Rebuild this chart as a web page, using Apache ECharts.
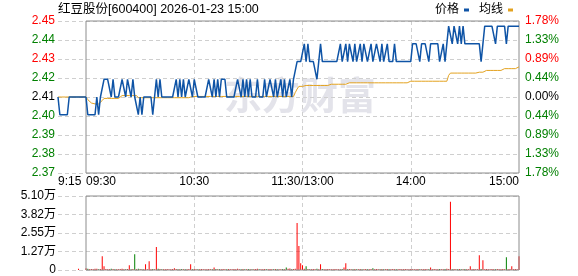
<!DOCTYPE html>
<html><head><meta charset="utf-8">
<script src="https://cdn.jsdelivr.net/npm/echarts@6/dist/echarts.min.js"></script>
<style>html,body{margin:0;padding:0;background:#fff}#c{width:578px;height:276px}</style>
</head><body><div id="c"></div>
<script>
const titleText = '红豆股份[600400] 2026-01-23 15:00';
const prevClose = 2.41;

const preTimes = ['9:15','9:16','9:17','9:18','9:19','9:20','9:21','9:22','9:23','9:24','9:25','9:26','9:27','9:28','9:29','9:30'];
const prePrice = [2.41,2.40,2.40,2.40,2.40,2.40,2.41,2.41,2.41,2.41,2.41,2.41,2.41,2.41,2.41,2.41];
const preAvg = [2.41,2.41,2.41,2.41,2.41,2.41,2.41,2.41,2.41,2.41,2.41,2.41,2.41,2.41,2.41,2.41];
const preVolume = [0,0,0,0,0,0,0,0,0,0,0,800,0,0,0,0];

const price = [
2.41,2.40,2.40,2.40,2.40,2.40,2.41,2.40,2.41,2.41,
2.42,2.42,2.42,2.42,2.41,2.42,2.41,2.41,2.41,2.41,
2.42,2.42,2.41,2.42,2.42,2.41,2.42,2.41,2.41,2.40,
2.41,2.40,2.41,2.41,2.41,2.41,2.41,2.40,2.41,2.42,
2.41,2.42,2.41,2.41,2.41,2.41,2.41,2.41,2.41,2.41,
2.42,2.41,2.42,2.41,2.42,2.41,2.41,2.42,2.42,2.41,
2.42,2.42,2.41,2.41,2.41,2.41,2.41,2.41,2.42,2.42,
2.41,2.42,2.41,2.42,2.41,2.42,2.42,2.42,2.41,2.41,
2.41,2.41,2.41,2.41,2.42,2.42,2.41,2.42,2.41,2.42,
2.41,2.42,2.41,2.41,2.41,2.42,2.41,2.41,2.41,2.42,
2.41,2.41,2.42,2.42,2.41,2.42,2.41,2.41,2.42,2.41,
2.42,2.41,2.41,2.42,2.41,2.42,2.42,2.43,2.43,2.43,
2.43,2.44,2.43,2.44,2.43,2.43,2.43,2.43,2.42,2.43,
2.44,2.43,2.43,2.43,2.43,2.43,2.43,2.43,2.43,2.43,
2.43,2.44,2.43,2.43,2.44,2.43,2.44,2.44,2.43,2.44,
2.43,2.43,2.44,2.43,2.44,2.44,2.43,2.43,2.44,2.43,
2.43,2.44,2.44,2.43,2.44,2.43,2.43,2.44,2.43,2.43,
2.43,2.44,2.43,2.43,2.43,2.43,2.43,2.43,2.43,2.43,
2.43,2.44,2.44,2.44,2.44,2.43,2.44,2.44,2.44,2.44,
2.43,2.44,2.44,2.44,2.44,2.44,2.43,2.43,2.44,2.43,
2.43,2.45,2.45,2.44,2.45,2.45,2.44,2.45,2.44,2.45,
2.44,2.44,2.44,2.44,2.44,2.44,2.44,2.44,2.44,2.43,
2.44,2.45,2.45,2.45,2.45,2.45,2.45,2.44,2.45,2.45,
2.45,2.45,2.45,2.44,2.45,2.45,2.45,2.45,2.45,2.45,
2.45];

const avgPrice = [
2.4100,2.4085,2.4075,2.4066,2.4061,2.4061,2.4061,2.4061,2.4061,2.4080,
2.4092,2.4092,2.4092,2.4092,2.4092,2.4092,2.4092,2.4092,2.4092,2.4092,
2.4108,2.4108,2.4108,2.4108,2.4108,2.4108,2.4108,2.4108,2.4108,2.4096,
2.4096,2.4096,2.4096,2.4096,2.4096,2.4096,2.4096,2.4096,2.4096,2.4096,
2.4096,2.4096,2.4096,2.4096,2.4096,2.4096,2.4096,2.4096,2.4096,2.4096,
2.4096,2.4096,2.4096,2.4096,2.4096,2.4096,2.4096,2.4096,2.4103,2.4103,
2.4103,2.4103,2.4103,2.4103,2.4103,2.4103,2.4103,2.4103,2.4103,2.4103,
2.4103,2.4103,2.4103,2.4103,2.4103,2.4103,2.4103,2.4103,2.4103,2.4103,
2.4103,2.4103,2.4103,2.4103,2.4103,2.4103,2.4103,2.4103,2.4103,2.4103,
2.4103,2.4103,2.4103,2.4103,2.4103,2.4103,2.4103,2.4103,2.4103,2.4103,
2.4103,2.4103,2.4103,2.4103,2.4103,2.4103,2.4103,2.4103,2.4103,2.4103,
2.4103,2.4103,2.4103,2.4103,2.4103,2.4103,2.4125,2.4145,2.4160,2.4160,
2.4160,2.4160,2.4165,2.4165,2.4165,2.4165,2.4165,2.4165,2.4165,2.4165,
2.4165,2.4165,2.4165,2.4165,2.4165,2.4172,2.4172,2.4172,2.4172,2.4172,
2.4172,2.4172,2.4172,2.4172,2.4172,2.4172,2.4180,2.4180,2.4180,2.4180,
2.4180,2.4180,2.4180,2.4180,2.4180,2.4180,2.4180,2.4180,2.4180,2.4180,
2.4180,2.4180,2.4180,2.4180,2.4180,2.4180,2.4180,2.4180,2.4180,2.4180,
2.4180,2.4180,2.4180,2.4180,2.4180,2.4180,2.4180,2.4180,2.4180,2.4189,
2.4189,2.4189,2.4189,2.4189,2.4189,2.4189,2.4189,2.4189,2.4189,2.4189,
2.4189,2.4189,2.4189,2.4189,2.4189,2.4189,2.4189,2.4189,2.4189,2.4189,
2.4189,2.4222,2.4235,2.4235,2.4235,2.4235,2.4235,2.4235,2.4235,2.4235,
2.4235,2.4235,2.4235,2.4235,2.4235,2.4235,2.4235,2.4240,2.4240,2.4240,
2.4240,2.4250,2.4250,2.4250,2.4250,2.4250,2.4250,2.4250,2.4250,2.4250,
2.4250,2.4250,2.4260,2.4260,2.4260,2.4260,2.4260,2.4260,2.4260,2.4270,
2.4270];

const volume = [
1200,800,600,700,500,900,800,600,700,9500,
2500,700,600,500,800,700,600,500,600,700,
800,600,500,700,3200,600,700,10900,600,800,
700,600,500,3900,600,6000,500,700,600,15800,
800,700,600,500,600,700,500,600,700,1200,
700,600,500,700,600,500,600,700,3900,600,
700,600,500,600,700,500,600,500,700,600,
600,1800,700,600,500,600,700,500,600,700,
500,600,700,500,800,600,500,700,600,500,
700,600,500,600,700,800,600,500,600,700,
600,500,700,600,500,700,600,500,600,700,
600,1800,900,1000,600,700,800,32400,16500,4600,
3200,800,2500,700,600,500,700,600,800,600,
3900,700,600,500,700,600,500,600,700,600,
500,600,700,1800,4600,600,700,500,600,700,
600,500,700,600,500,700,600,500,700,1200,
600,700,500,600,700,500,600,700,500,600,
700,600,500,600,700,500,600,700,500,600,
700,600,500,600,700,500,600,500,700,600,
500,1800,600,700,500,600,700,500,600,700,
800,700,47000,600,700,500,600,700,500,600,
700,600,500,2500,600,700,500,600,10200,700,
6700,600,700,500,600,700,500,600,700,500,
600,700,500,8800,600,700,2500,600,700,500,
9500];

const priceTicks = ['2.37','2.38','2.39','2.40','2.41','2.42','2.43','2.44','2.45'];
const pctTicks = ['1.78%','1.33%','0.89%','0.44%','0.00%','0.44%','0.89%','1.33%','1.78%'];
const volTicks = ['0','1.27万','2.55万','3.82万','5.10万'];
const timeTickIdx = [0, 60, 120, 180, 240];
const timeTickText = ['09:30','10:30','11:30/13:00','14:00','15:00'];

// trading minute categories
const times = [];
for (let h = 9, m = 30; !(h === 11 && m === 31); ) {
  times.push((h < 10 ? '0' : '') + h + ':' + (m < 10 ? '0' : '') + m);
  m++; if (m === 60) { m = 0; h++; }
}
for (let h = 13, m = 1; !(h === 15 && m === 1); ) {
  times.push(h + ':' + (m < 10 ? '0' : '') + m);
  m++; if (m === 60) { m = 0; h++; }
}

const BP_MAX = 178, BP_STEP = 44.5;
const toBp = p => (p / prevClose - 1) * 10000;
const tickIndex = v => Math.round((v + BP_MAX) / BP_STEP);
const RED = '#ff0000', GREEN = '#008000', BLUE = '#0f54a6', ORANGE = '#e3a21f';
const FONT = '"Liberation Sans", Arial, "Noto Sans CJK SC", sans-serif';
const lblColor = v => { const i = tickIndex(v); return i > 4 ? RED : (i < 4 ? GREEN : '#000'); };
const dash = { color: '#cfcfcf', type: [4, 3], width: 1 };

function volItems(vals, prices, first) {
  return vals.map((v, i) => {
    const prev = i === 0 ? first : prices[i - 1];
    return { value: v, itemStyle: { color: prices[i] < prev ? GREEN : RED } };
  });
}

const chart = echarts.init(document.getElementById('c'), null, { renderer: 'canvas' });
chart.setOption({
  animation: false,
  backgroundColor: '#fff',
  textStyle: { fontFamily: FONT },
  title: { text: titleText, left: 58, top: 3, padding: 0,
    textStyle: { fontSize: 12.5, fontWeight: 'normal', color: '#000', fontFamily: FONT } },
  legend: { right: 65, top: 4, padding: 0, align: 'right', itemWidth: 5, itemHeight: 3, itemGap: 10,
    textStyle: { fontSize: 12, color: '#000', fontFamily: FONT },
    data: [{ name: '价格', icon: 'rect' }, { name: '均线', icon: 'rect' }] },
  graphic: [{ type: 'text', left: 224, top: 76, z: -10, silent: true,
    style: { text: '东方财富', font: 'bold 38px "Noto Sans CJK SC"', fill: '#e3e3ea' } }],
  grid: [
    { left: 58, top: 21, width: 28, height: 152 },
    { left: 86, top: 21, right: 59, height: 152, show: true, borderColor: '#8c8c8c', borderWidth: 1, z: 3 },
    { left: 58, top: 196, width: 28, height: 74 },
    { left: 86, top: 196, right: 59, height: 74, show: true, borderColor: '#8c8c8c', borderWidth: 1, z: 3 }
  ],
  xAxis: [
    { type: 'category', gridIndex: 0, data: preTimes, boundaryGap: false,
      axisLine: { show: false }, axisTick: { show: false }, splitLine: { show: false },
      axisLabel: { interval: (i) => i === 0, align: 'left', margin: 3, fontSize: 12, color: '#000', fontFamily: FONT } },
    { type: 'category', gridIndex: 1, data: times, boundaryGap: false,
      axisLine: { show: false }, axisTick: { show: false },
      splitLine: { show: true, interval: (i) => i === 60 || i === 120 || i === 180, lineStyle: dash },
      axisLabel: { interval: (i) => timeTickIdx.indexOf(i) >= 0,
        formatter: (v, i) => timeTickText[timeTickIdx.indexOf(i)],
        alignMinLabel: 'left', alignMaxLabel: 'right',
        margin: 3, fontSize: 12, color: '#000', fontFamily: FONT } },
    { type: 'category', gridIndex: 2, data: preTimes, boundaryGap: false,
      axisLine: { show: false }, axisTick: { show: false }, axisLabel: { show: false }, splitLine: { show: false } },
    { type: 'category', gridIndex: 3, data: times, boundaryGap: false,
      axisLine: { show: false }, axisTick: { show: false }, axisLabel: { show: false },
      splitLine: { show: true, interval: (i) => i === 60 || i === 120 || i === 180, lineStyle: dash } }
  ],
  yAxis: [
    { type: 'value', gridIndex: 0, min: -BP_MAX, max: BP_MAX, interval: BP_STEP, position: 'left',
      axisLine: { show: false }, axisTick: { show: false }, splitLine: { show: true, lineStyle: dash },
      axisLabel: { margin: 3, fontSize: 12, fontFamily: FONT, formatter: v => priceTicks[tickIndex(v)], color: lblColor } },
    { type: 'value', gridIndex: 1, min: -BP_MAX, max: BP_MAX, interval: BP_STEP, position: 'right',
      axisLine: { show: false }, axisTick: { show: false }, splitLine: { show: true, lineStyle: dash },
      axisLabel: { margin: 6, fontSize: 12, fontFamily: FONT, formatter: v => pctTicks[tickIndex(v)], color: lblColor } },
    { type: 'value', gridIndex: 2, min: 0, max: 51000, interval: 12750, position: 'left',
      axisLine: { show: false }, axisTick: { show: false }, splitLine: { show: true, lineStyle: dash },
      axisLabel: { margin: 2, fontSize: 12, fontFamily: FONT, color: '#000',
        formatter: v => volTicks[Math.round(v / 12750)] } },
    { type: 'value', gridIndex: 3, min: 0, max: 51000, interval: 12750, position: 'right',
      axisLine: { show: false }, axisTick: { show: false }, axisLabel: { show: false },
      splitLine: { show: true, lineStyle: dash } }
  ],
  series: [
    { name: '价格', type: 'line', xAxisIndex: 0, yAxisIndex: 0, data: prePrice.map(toBp),
      symbol: 'none', lineStyle: { color: BLUE, width: 1.5 }, itemStyle: { color: BLUE }, z: 4 },
    { name: '均线', type: 'line', xAxisIndex: 0, yAxisIndex: 0, data: preAvg.map(toBp),
      symbol: 'none', lineStyle: { color: ORANGE, width: 1 }, itemStyle: { color: ORANGE }, z: 3 },
    { name: '价格', type: 'line', xAxisIndex: 1, yAxisIndex: 1, data: price.map(toBp),
      symbol: 'none', lineStyle: { color: BLUE, width: 1.5 }, itemStyle: { color: BLUE }, z: 4 },
    { name: '均线', type: 'line', xAxisIndex: 1, yAxisIndex: 1, data: avgPrice.map(toBp),
      symbol: 'none', lineStyle: { color: ORANGE, width: 1 }, itemStyle: { color: ORANGE }, z: 3 },
    { name: '成交量', type: 'bar', xAxisIndex: 2, yAxisIndex: 2, barWidth: 1,
      data: volItems(preVolume, prePrice, prevClose) },
    { name: '成交量', type: 'bar', xAxisIndex: 3, yAxisIndex: 3, barWidth: 1,
      data: volItems(volume, price, prePrice[prePrice.length - 1]) }
  ]
});
</script></body></html>
